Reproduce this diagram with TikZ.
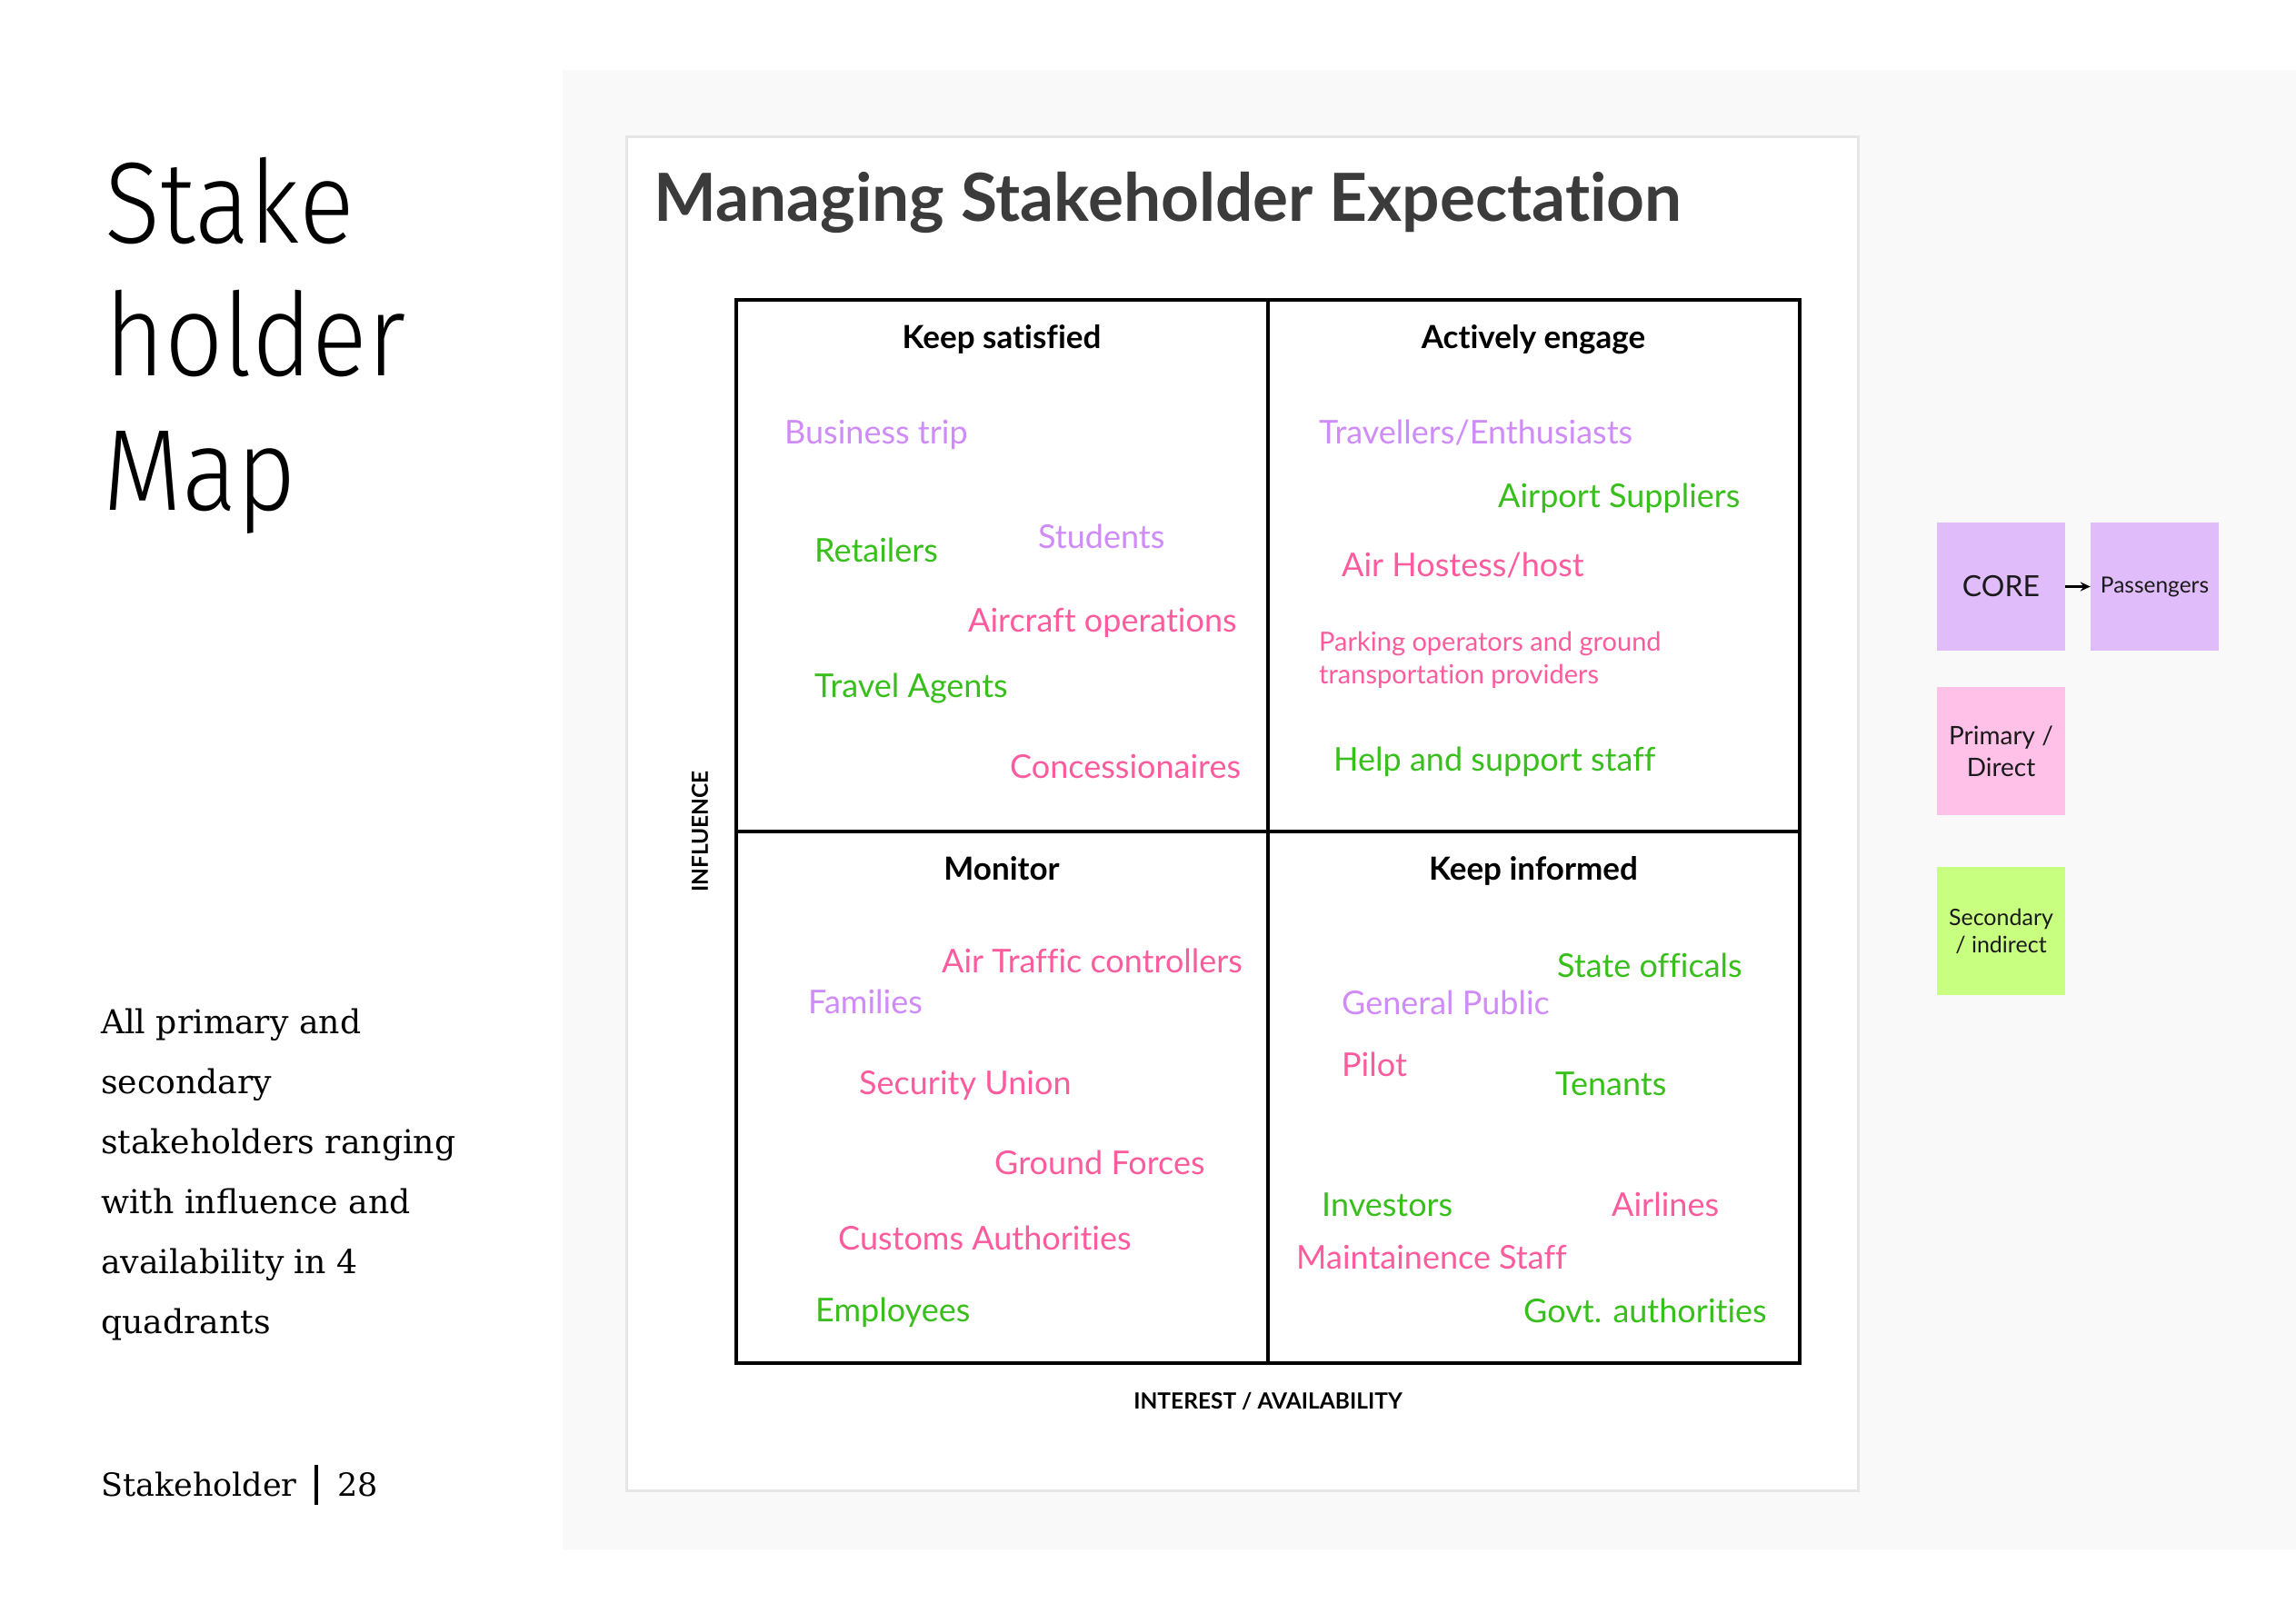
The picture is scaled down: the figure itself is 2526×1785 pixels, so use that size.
\documentclass[tikz,border=0pt]{standalone}
\usepackage{fontspec}
\setmainfont{Lato}[Ligatures=NoCommon]
\newfontfamily\bigfont{Fira Sans Light}[FakeStretch=0.89]
\newfontfamily\slabfont{DejaVu Serif}
\usetikzlibrary{arrows.meta}
\definecolor{purp}{HTML}{CF8BF7}
\definecolor{grn}{HTML}{38BF1C}
\definecolor{pnk}{HTML}{FC5C9E}
\definecolor{coreC}{HTML}{E1BCFA}
\definecolor{primC}{HTML}{FFC1E8}
\definecolor{secC}{HTML}{C9FF80}
\definecolor{panelC}{HTML}{F9F9F9}
\definecolor{cardC}{HTML}{E6E6E6}
\definecolor{titleC}{HTML}{3B3B3B}
\definecolor{txtdark}{HTML}{1A1A1A}
\begin{document}
\begin{tikzpicture}[x=1pt,y=-1pt,
  item/.style={anchor=base west, inner sep=0pt, font=\fontsize{36}{43}\selectfont},
  pu/.style={item,text=purp},
  gr/.style={item,text=grn},
  pk/.style={item,text=pnk},
  pksmall/.style={pk,font=\fontsize{29}{35}\selectfont},
  hdr/.style={anchor=base, inner sep=0pt, font=\bfseries\fontsize{35}{42}\selectfont},
  axislab/.style={inner sep=0pt, font=\bfseries\fontsize{24.5}{30}\selectfont},
  legbox/.style={minimum width=141pt, minimum height=141pt, inner sep=0pt, align=center, text=txtdark},
  quadline/.style={line width=3.2pt, black},
  bigword/.style={anchor=base west, inner sep=0pt, font=\bigfont\fontsize{127}{150}\selectfont},
  slab/.style={anchor=base west, inner sep=0pt, font=\slabfont\fontsize{36.2}{66}\selectfont, text=black},
  arr/.style={-{Stealth[length=11pt,width=10pt]}, line width=3pt, black}
]
\useasboundingbox (0,0) rectangle (2526,1785);
\fill[white] (0,0) rectangle (2526,1785);
% grey panel
\fill[panelC] (619,77) rectangle (2526,1705);
% white card
\draw[cardC, line width=3pt, fill=white] (689,150) rectangle (2044,1640);

% left column
\node[bigword] (w1) at (115,267) {Stake};
\node[bigword] (w2) at (115,413) {holder};
\node[bigword] (w3) at (113,561) {Map};

\node[slab] (b1) at (111,1137) {All primary and};
\node[slab] (b2) at (111,1203) {secondary};
\node[slab] (b3) at (111,1269) {stakeholders ranging};
\node[slab] (b4) at (111,1335) {with influence and};
\node[slab] (b5) at (111,1401) {availability in 4};
\node[slab] (b6) at (111,1467) {quadrants};

\node[slab, font=\slabfont\fontsize{35}{44}\selectfont] (foot) at (111,1646) {Stakeholder};
\coordinate (bartop) at (348,1612);
\coordinate (barbot) at (348,1656);
\draw[line width=3.5pt] (bartop) -- (barbot);
\node[slab, font=\slabfont\fontsize{35}{44}\selectfont] (page) at (371,1646) {28};

% title
\node[anchor=base west, inner sep=0pt, text=titleC, font=\bfseries\fontsize{73}{88}\selectfont] (title) at (719,243) {Managing Stakeholder Expectation};

% quadrant grid
\coordinate (qtl) at (810,330);
\coordinate (qbr) at (1980,1500);
\coordinate (qmt) at (1395,330);
\coordinate (qmb) at (1395,1500);
\coordinate (qml) at (810,915);
\coordinate (qmr) at (1980,915);
\draw[quadline] (qtl) rectangle (qbr);
\draw[quadline] (qmt) -- (qmb);
\draw[quadline] (qml) -- (qmr);

% headers
\node[hdr] (h1) at (1102,383) {Keep satisfied};
\node[hdr] (h2) at (1687,383) {Actively engage};
\node[hdr] (h3) at (1102,968) {Monitor};
\node[hdr] (h4) at (1687,968) {Keep informed};

% Keep satisfied
\node[pu] (n1) at (863,488) {Business trip};
\node[pu] (n2) at (1142,603) {Students};
\node[gr] (n3) at (896,618) {Retailers};
\node[pk] (n4) at (1065,695) {Aircraft operations};
\node[gr] (n5) at (896,767) {Travel Agents};
\node[pk] (n6) at (1111,856) {Concessionaires};

% Actively engage
\node[pu] (n7) at (1451,488) {Travellers/Enthusiasts};
\node[gr] (n8) at (1648,558) {Airport Suppliers};
\node[pk] (n9) at (1476,634) {Air Hostess/host};
\node[pksmall] (n10) at (1451,716) {Parking operators and ground};
\node[pksmall] (n10b) at (1451,752) {transportation providers};
\node[gr] (n11) at (1467,848) {Help and support staff};

% Monitor
\node[pk] (n12) at (1036,1070) {Air Traffic controllers};
\node[pu] (n13) at (889,1115) {Families};
\node[pk] (n14) at (945,1204) {Security Union};
\node[pk] (n15) at (1094,1292) {Ground Forces};
\node[pk] (n16) at (922,1375) {Customs Authorities};
\node[gr] (n17) at (897,1454) {Employees};

% Keep informed
\node[gr] (n18) at (1713,1075) {State officals};
\node[pu] (n19) at (1476,1116) {General Public};
\node[pk] (n20) at (1476,1184) {Pilot};
\node[gr] (n21) at (1711,1205) {Tenants};
\node[gr] (n22) at (1454,1338) {Investors};
\node[pk] (n23) at (1773,1338) {Airlines};
\node[pk] (n24) at (1426,1396) {Maintainence Staff};
\node[gr] (n25) at (1676,1455) {Govt. authorities};

% axis labels
\node[axislab, rotate=90] (infl) at (770,915) {INFLUENCE};
\node[axislab] (inter) at (1395,1542) {INTEREST / AVAILABILITY};

% legend
\node[legbox, fill=coreC, font=\fontsize{32}{38}\selectfont] (core) at (2201.5,645.5) {CORE};
\node[legbox, fill=coreC, font=\fontsize{24.5}{30}\selectfont] (pass) at (2370.5,645.5) {Passengers};
\node[legbox, fill=primC, font=\fontsize{28}{35}\selectfont] (prim) at (2201.5,826.5) {Primary /\\Direct};
\node[legbox, fill=secC, font=\fontsize{25}{30}\selectfont] (sec) at (2201.5,1024.5) {Secondary\\/ indirect};
\draw[arr] (core) -- (pass);
\end{tikzpicture}
\end{document}
